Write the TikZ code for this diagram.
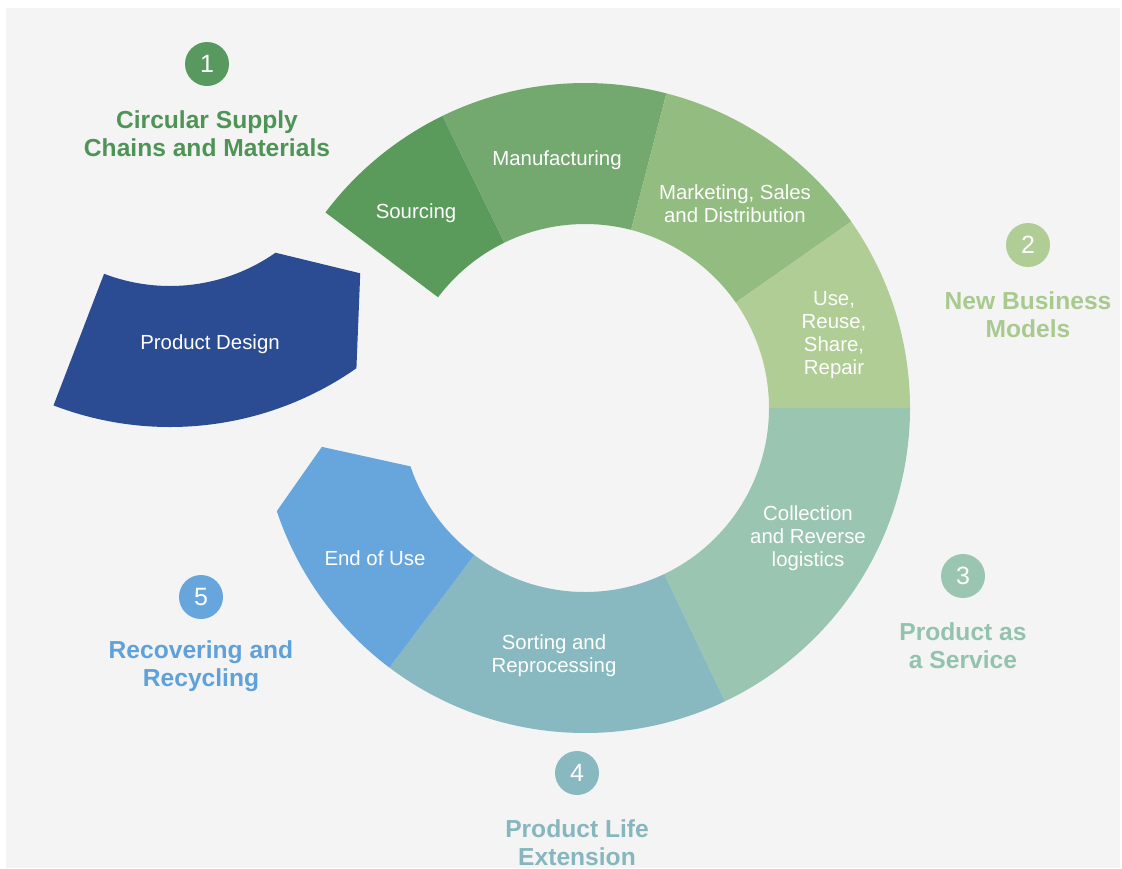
\documentclass[tikz,border=0pt]{standalone}
\usepackage{fontspec}
\setmainfont{Liberation Sans}
\definecolor{panelgray}{HTML}{F4F4F4}
\definecolor{cSource}{HTML}{5A9B5C}
\definecolor{cMake}{HTML}{73A86F}
\definecolor{cSell}{HTML}{92BC80}
\definecolor{cUse}{HTML}{AFCD94}
\definecolor{cCollect}{HTML}{9AC5B0}
\definecolor{cSort}{HTML}{88B9C0}
\definecolor{cEnd}{HTML}{66A6DC}
\definecolor{cDesign}{HTML}{2B4C92}
\definecolor{tOne}{HTML}{4F9457}
\definecolor{tTwo}{HTML}{A9CA8F}
\definecolor{tThree}{HTML}{93C3AE}
\definecolor{tFour}{HTML}{86B7BE}
\definecolor{tFive}{HTML}{5FA1DB}
\begin{document}
\begin{tikzpicture}[x=0.5pt,y=-0.5pt,line join=round,
    seglabel/.style={text=white,align=center,inner sep=0pt,font=\fontsize{10.2}{11.6}\selectfont},
    numdot/.style={circle,inner sep=0pt,minimum size=22pt,text=white,font=\fontsize{12.5}{15}\selectfont},
    theme/.style={align=center,inner sep=0pt,font=\bfseries\fontsize{12.3}{14}\selectfont}]
  \useasboundingbox (0,0) rectangle (1122,868);
  \fill[white] (0,0) rectangle (1122,868);
  \fill[panelgray] (6,8) rectangle (1120,868);
  % ring segments, centre (585,408)
  \foreach \a/\b/\col in {-143/-116/cSource,-116/-75.5/cMake,-75.5/-35/cSell,-35/0/cUse,0/64.5/cCollect,64.5/127/cSort}
    \fill[\col,shift={(585,408)}] (\a:325) arc[start angle=\a,end angle=\b,radius=325]
      -- (\b:184) arc[start angle=\b,end angle=\a,radius=184] -- cycle;
  \fill[cEnd,shift={(585,408)}] (127:325) arc[start angle=127,end angle=161.5,radius=325]
    -- (171.6:266) -- (161.5:184) arc[start angle=161.5,end angle=127,radius=184] -- cycle;
  % product design, pulled out of the ring
  \fill[cDesign,shift={(170,102)}] (111:325) arc[start angle=111,end angle=55,radius=325]
    -- (42:256) -- (55:184) arc[start angle=55,end angle=111,radius=184] -- cycle;

  \node[seglabel] (sourcing) at (416,213) {Sourcing};
  \node[seglabel] (manufacturing) at (557,160) {Manufacturing};
  \node[seglabel] (marketing) at (735,204) {Marketing, Sales\\and Distribution};
  \node[seglabel] (use) at (834,335) {Use,\\Reuse,\\Share,\\Repair};
  \node[seglabel] (collection) at (808,538) {Collection\\and Reverse\\logistics};
  \node[seglabel] (sorting) at (554,656) {Sorting and\\Reprocessing};
  \node[seglabel] (endofuse) at (375,558) {End of Use};
  \node[seglabel] (design) at (210,344) {Product Design};

  \node[numdot,fill=tOne!95!white] (dot1) at (207,64) {1};
  \node[theme,text=tOne] (theme1) at (207,134) {Circular Supply\\Chains and Materials};
  \node[numdot,fill=cUse] (dot2) at (1028,245) {2};
  \node[theme,text=tTwo] (theme2) at (1028,315) {New Business\\Models};
  \node[numdot,fill=cCollect] (dot3) at (963,576) {3};
  \node[theme,text=tThree] (theme3) at (963,646) {Product as\\a Service};
  \node[numdot,fill=cSort] (dot4) at (577,773) {4};
  \node[theme,text=tFour] (theme4) at (577,843) {Product Life\\Extension};
  \node[numdot,fill=cEnd] (dot5) at (201,597) {5};
  \node[theme,text=tFive] (theme5) at (201,666) {Recovering and\\Recycling};
\end{tikzpicture}
\end{document}
